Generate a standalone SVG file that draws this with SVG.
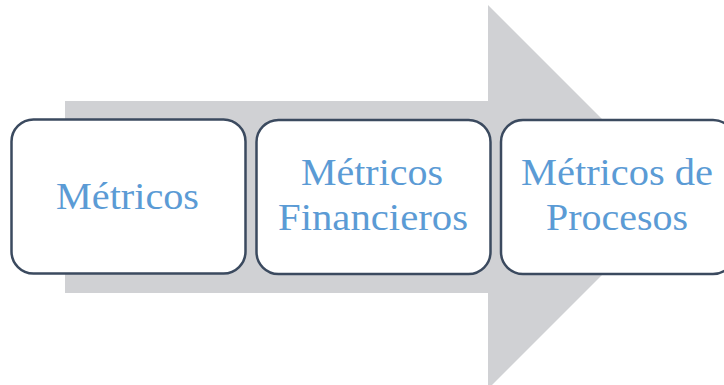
<svg xmlns="http://www.w3.org/2000/svg" width="724" height="385" viewBox="0 0 724 385">
<style>
.box{fill:#ffffff;stroke:#3b4a5f;stroke-width:2.5}
.lbl{font-family:"Liberation Serif","Times New Roman",serif;font-size:38px;fill:#5b9bd5;text-anchor:middle}
</style>
<rect width="724" height="385" fill="#ffffff"/>
<g id="connectors">
<polygon points="65,101 488,101 488,5 680,197 488,389 488,293 65,293" fill="#d0d1d4"/>
</g>
<g id="node1">
<rect class="box" x="11.5" y="119.5" width="234" height="154" rx="22"/>
<text class="lbl" x="127.5" y="209" textLength="143" lengthAdjust="spacingAndGlyphs">Métricos</text>
</g>
<g id="node2">
<rect class="box" x="256.5" y="120" width="234" height="154" rx="22"/>
<text class="lbl" x="372" y="185" textLength="142" lengthAdjust="spacingAndGlyphs">Métricos</text>
<text class="lbl" x="373" y="230" textLength="190" lengthAdjust="spacingAndGlyphs">Financieros</text>
</g>
<g id="node3">
<rect class="box" x="501" y="120" width="234" height="154" rx="22"/>
<text class="lbl" x="617" y="185" textLength="192" lengthAdjust="spacingAndGlyphs">Métricos de</text>
<text class="lbl" x="617" y="230" textLength="142" lengthAdjust="spacingAndGlyphs">Procesos</text>
</g>
</svg>
